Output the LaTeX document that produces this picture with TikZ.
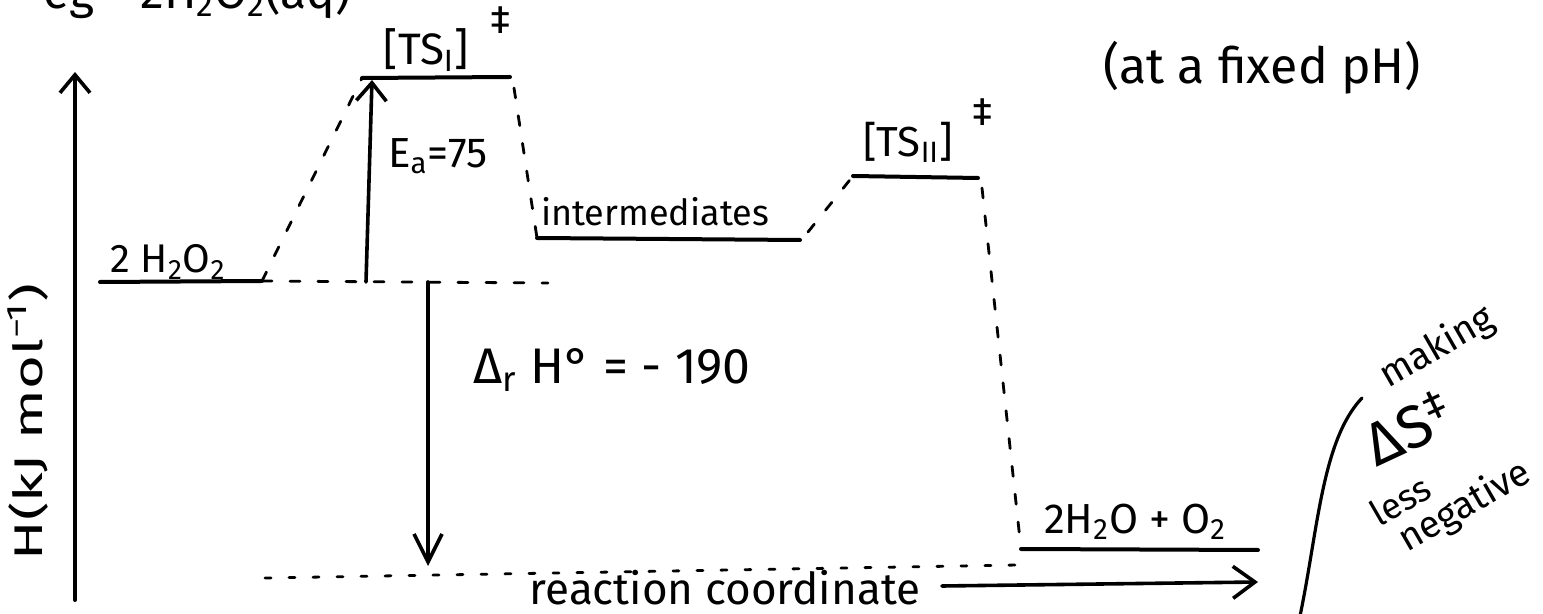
\documentclass[tikz,border=0pt]{standalone}
\usepackage{fontspec}
\setmainfont{Fira Sans}
\usetikzlibrary{arrows.meta}
\begin{document}
\begin{tikzpicture}[x=0.5pt,y=-0.5pt,
  level/.style={line width=2pt, line cap=round},
  conn/.style={line width=1.4pt, dash pattern=on 5pt off 9pt, line cap=round},
  dotconn/.style={line width=1.4pt, dash pattern=on 3pt off 9pt, line cap=round},
  arr/.style={line width=1.8pt, line cap=round, -{Straight Barb[length=9pt,width=15pt,line width=1.8pt]}},
  lbl/.style={inner sep=0pt, font=\fontsize{20}{24}\selectfont},
]
\useasboundingbox (0,0) rectangle (1543,614);
\clip (0,0) rectangle (1543,614);

% partially visible heading (cut by the top edge, as in the reference)
\node[lbl, font=\fontsize{24}{28}\selectfont, anchor=base west] (eg) at (43,9) {eg};
\node[lbl, font=\fontsize{24}{28}\selectfont, anchor=base west] (eq) at (140,9) {2H\textsubscript{2}O\textsubscript{2}(aq)};
\node[lbl, font=\fontsize{25}{30}\selectfont] (ph) at (1262,68) {(at a fixed pH)};

% coordinates
\coordinate (axB) at (75,600);
\coordinate (axT) at (75,72);
\coordinate (rL) at (100,282);
\coordinate (rR) at (262,281);
\coordinate (baseR) at (548,283);
\coordinate (t1L) at (362,78);
\coordinate (t1R) at (510,77);
\coordinate (t1D) at (514,88);
\coordinate (iL) at (537,238);
\coordinate (iR) at (800,240);
\coordinate (iU) at (808,232);
\coordinate (t2L) at (853,176);
\coordinate (t2R) at (978,178);
\coordinate (t2D) at (982,188);
\coordinate (pL) at (1021,549);
\coordinate (pR) at (1258,550);
\coordinate (bL) at (265,578);
\coordinate (bR) at (1018,565);
\coordinate (eaB) at (366,282);
\coordinate (eaT) at (372,80);
\coordinate (dhT) at (428,282);
\coordinate (dhB) at (428,566);
\coordinate (rcL) at (942,586);
\coordinate (rcR) at (1258,582);
\coordinate (cv1) at (1300,616);
\coordinate (cv2) at (1362,398);

% axis
\draw[arr, line width=2pt] (axB) -- (axT);
\node[inner sep=0pt, rotate=90, font=\fontsize{20}{24}\selectfont] (ylab) at (28,422)
  {\scalebox{1.45}[1]{H(kJ mol\textsuperscript{−1})}};

% levels
\draw[level] (rL) -- (rR);
\draw[level] (t1L) -- (t1R);
\draw[level] (iL) -- (iR);
\draw[level] (t2L) -- (t2R);
\draw[level] (pL) -- (pR);

% dashed connectors
\draw[conn] (rR) -- (baseR);
\draw[conn] (rR) -- (t1L);
\draw[conn] (t1D) -- (iL);
\draw[conn] (iU) -- (t2L);
\draw[conn] (t2D) -- (pL);
\draw[dotconn] (bL) -- (bR);

% arrows
\draw[arr] (eaB) -- (eaT);
\draw[arr, -{Straight Barb[length=14pt,width=14pt,line width=1.8pt]}] (dhT) -- (dhB);
\draw[arr, -{Straight Barb[length=11pt,width=16pt,line width=1.8pt]}] (rcL) -- (rcR);

% labels
\node[lbl] (rlab) at (168,262) {2 H\textsubscript{2}O\textsubscript{2}};
\node[lbl, font=\fontsize{22}{26}\selectfont] (t1lab) at (426,50) {[TS\textsubscript{I}]};
\node[lbl] (t1dag) at (501,20) {‡};
\node[lbl, font=\fontsize{21}{24}\selectfont] (ealab) at (438,156) {E\textsubscript{a}=75};
\node[lbl, font=\fontsize{18}{22}\selectfont] (ilab) at (655,212) {intermediates};
\node[lbl, font=\fontsize{21}{24}\selectfont] (t2lab) at (908,142) {[TS\textsubscript{II}]};
\node[lbl] (t2dag) at (983,112) {‡};
\node[lbl, font=\fontsize{21}{24}\selectfont] (plab) at (1135,522) {2H\textsubscript{2}O + O\textsubscript{2}};
\node[lbl, font=\fontsize{25}{30}\selectfont] (dhlab) at (612,370) {Δ\textsubscript{r} H° = - 190};
\node[lbl, font=\fontsize{22}{26}\selectfont] (rclab) at (725,588) {reaction coordinate};

% side note
\draw[line width=1.6pt, line cap=round] (cv1) .. controls (1318,530) and (1322,440) .. (cv2);
\node[lbl, rotate=30, font=\fontsize{19}{22}\selectfont] (mk) at (1437,348) {making};
\node[lbl, rotate=25, font=\fontsize{30}{34}\selectfont] (ds) at (1408,428) {ΔS\textsuperscript{‡}};
\node[lbl, rotate=30, font=\fontsize{18}{22}\selectfont] (ls) at (1400,500) {less};
\node[lbl, rotate=30, font=\fontsize{19}{22}\selectfont] (ng) at (1465,507) {negative};
\end{tikzpicture}
\end{document}
